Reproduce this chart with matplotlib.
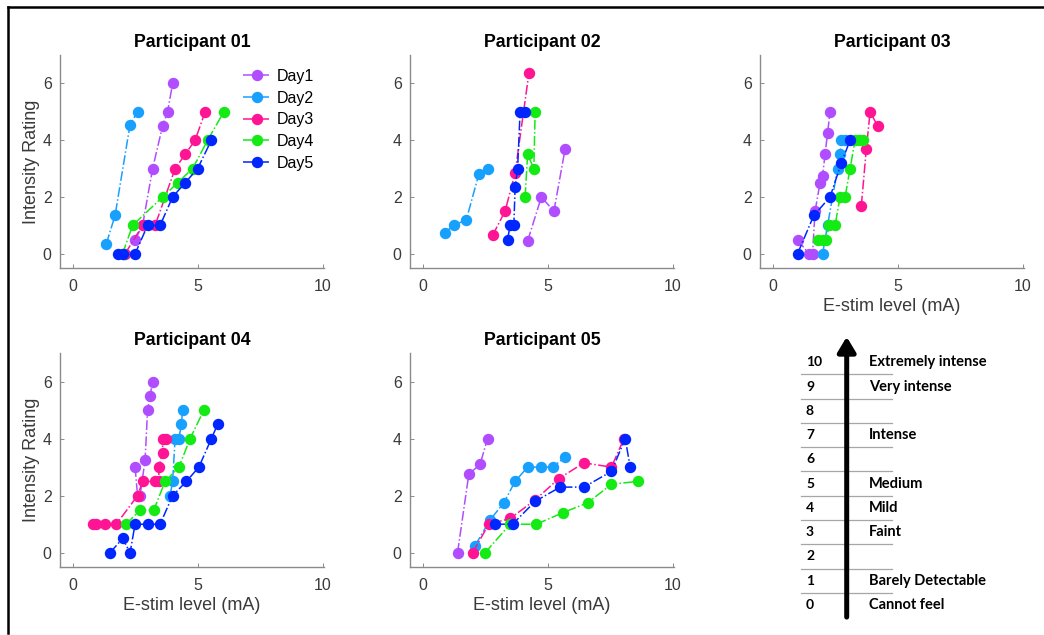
import matplotlib
matplotlib.use("Agg")
import matplotlib.pyplot as plt
from matplotlib.lines import Line2D

# ------------------------------------------------------------
# Data (E-stim level in mA, intensity rating)
# one list per day, Day1..Day5
# ------------------------------------------------------------
day_labels = ["Day1", "Day2", "Day3", "Day4", "Day5"]
day_colors = ["#B04EFF", "#18A0FF", "#FF1493", "#14EA14", "#0026FF"]

p01_x = [[2.5, 2.8, 3.2, 3.6, 3.8, 4.0],
         [1.35, 1.7, 2.3, 2.6],
         [2.1, 2.8, 3.3, 4.1, 4.5, 4.9, 5.3],
         [2.0, 2.4, 3.6, 4.2, 4.8, 5.4, 6.05],
         [1.8, 2.0, 2.5, 3.0, 3.5, 4.0, 4.5, 5.0, 5.55]]
p01_y = [[0.5, 1, 3, 4.5, 5, 6],
         [0.35, 1.35, 4.55, 5],
         [0, 1, 1, 3, 3.5, 4, 5],
         [0, 1, 2, 2.5, 3, 4, 5],
         [0, 0, 0, 1, 1, 2, 2.5, 3, 4]]

p02_x = [[4.2, 4.75, 5.25, 5.7],
         [0.9, 1.25, 1.75, 2.25, 2.6],
         [2.8, 3.3, 3.7, 4.25],
         [4.1, 4.2, 4.45, 4.5],
         [3.4, 3.5, 3.65, 3.7, 3.8, 3.9, 4.1]]
p02_y = [[0.45, 2.0, 1.5, 3.7],
         [0.75, 1.0, 1.2, 2.8, 3.0],
         [0.65, 1.5, 2.85, 6.35],
         [2.0, 3.5, 3.0, 5.0],
         [0.5, 1, 1, 2.35, 3, 5, 5]]

p03_x = [[1.0, 1.45, 1.6, 1.7, 1.9, 2.0, 2.1, 2.2, 2.3],
         [2.0, 2.2, 2.6, 2.7, 2.75, 2.9],
         [3.55, 3.75, 3.9, 4.2],
         [1.8, 2.0, 2.15, 2.25, 2.5, 2.7, 2.9, 3.1, 3.3, 3.45, 3.6],
         [1.0, 1.65, 2.3, 2.75, 3.1]]
p03_y = [[0.5, 0, 0, 1.5, 2.5, 2.75, 3.5, 4.25, 5],
         [0, 1, 3, 3.5, 4, 4],
         [1.7, 3.7, 5, 4.5],
         [0.5, 0.5, 0.5, 1, 1, 2, 2, 3, 4, 4, 4],
         [0, 1.35, 2, 3.2, 4]]

p04_x = [[2.5, 2.6, 2.7, 2.9, 3.0, 3.1, 3.2],
         [3.9, 4.0, 4.1, 4.25, 4.35, 4.4],
         [0.8, 0.95, 1.3, 1.75, 2.6, 2.8, 3.3, 3.45, 3.45, 3.6, 3.6, 3.75],
         [2.15, 2.7, 3.25, 3.7, 4.25, 4.7, 5.25],
         [1.5, 2.0, 2.3, 2.5, 3.0, 3.5, 4.0, 4.55, 5.05, 5.55, 5.8]]
p04_y = [[3, 2, 2, 3.25, 5, 5.5, 6],
         [2, 2.5, 4, 4, 4.5, 5],
         [1, 1, 1, 1, 2, 2.5, 2.5, 2.5, 3, 3.5, 4, 4],
         [1, 1.5, 1.5, 2.5, 3, 4, 5],
         [0, 0.5, 0, 1, 1, 1, 2, 2.5, 3, 4, 4.5]]

p05_x = [[1.4, 1.85, 2.3, 2.6],
         [2.1, 2.7, 3.25, 3.7, 4.2, 4.75, 5.2, 5.7],
         [2.0, 2.65, 3.5, 4.5, 5.45, 6.45, 7.55, 8.05],
         [2.5, 3.5, 4.55, 5.6, 6.6, 7.55, 8.6],
         [2.9, 3.6, 4.5, 5.5, 6.45, 7.55, 8.1, 8.3]]
p05_y = [[0, 2.75, 3.1, 4],
         [0.25, 1.15, 1.75, 2.5, 3, 3, 3, 3.35],
         [0, 1, 1.2, 1.85, 2.6, 3.15, 3.0, 4.0],
         [0, 1, 1, 1.4, 1.75, 2.4, 2.5],
         [1, 1, 1.8, 2.3, 2.3, 2.85, 4, 3]]

titles = ["Participant 01", "Participant 02", "Participant 03",
          "Participant 04", "Participant 05"]
panel_x = [p01_x, p02_x, p03_x, p04_x, p05_x]
panel_y = [p01_y, p02_y, p03_y, p04_y, p05_y]

# rating scale shown at bottom right
scale_levels = [10, 9, 8, 7, 6, 5, 4, 3, 2, 1, 0]
scale_words = ["Extremely intense", "Very intense", "", "Intense", "",
               "Medium", "Mild", "Faint", "", "Barely Detectable", "Cannot feel"]

# ------------------------------------------------------------
# Figure layout (pixel boxes converted to figure fractions)
# ------------------------------------------------------------
W, H = 1044, 635
fig = plt.figure(figsize=(W / 100, H / 100), dpi=100)
plt.rcParams['font.family'] = ['Liberation Sans', 'DejaVu Sans']

def px_box(left, right, top, bottom):
    return [left / W, 1 - bottom / H, (right - left) / W, (bottom - top) / H]

boxes = [px_box(60, 324, 55, 268), px_box(410, 674, 55, 268), px_box(760, 1024, 55, 268),
         px_box(60, 324, 353, 567), px_box(410, 674, 353, 567)]
show_ylabel = [True, False, False, True, False]
show_xlabel = [False, False, True, True, True]

axis_grey = "#8a8a8a"
text_grey = "#3a3a3a"

for i in range(5):
    ax = fig.add_axes(boxes[i])
    for d in range(5):
        ax.plot(panel_x[i][d], panel_y[i][d], linestyle='-.', marker='o',
                color=day_colors[d], markersize=7.2, linewidth=1.1,
                label=day_labels[d])
    ax.set_xlim(-0.5, 10.05)
    ax.set_ylim(-0.5, 7)
    ax.set_xticks([0, 5, 10])
    ax.set_yticks([0, 2, 4, 6])
    for side in ['top', 'right']:
        ax.spines[side].set_visible(False)
    for side in ['left', 'bottom']:
        ax.spines[side].set_color(axis_grey)
        ax.spines[side].set_linewidth(1.0)
    ax.tick_params(direction='in', length=3, width=0.7, color=axis_grey,
                   labelsize=11.5, labelcolor=text_grey)
    ax.tick_params(axis='x', pad=8)
    ax.tick_params(axis='y', pad=6)
    ax.set_title(titles[i], fontsize=12.8, fontweight='bold', pad=6)
    if show_ylabel[i]:
        ax.set_ylabel("Intensity Rating", fontsize=13, color=text_grey, labelpad=2)
    if show_xlabel[i]:
        ax.set_xlabel("E-stim level (mA)", fontsize=13, color=text_grey, labelpad=3)
    if i == 0:
        ax.legend(loc='upper left', bbox_to_anchor=(0.695, 0.935), frameon=False,
                  fontsize=11.5, handlelength=1.7, handletextpad=0.4,
                  labelspacing=0.42, borderpad=0, borderaxespad=0)

# ------------------------------------------------------------
# Rating scale with arrow
# ------------------------------------------------------------
ax_s = fig.add_axes(px_box(790, 1000, 335.6, 617.1))
ax_s.set_xlim(790, 1000)
ax_s.set_ylim(-0.5, 11.1)
ax_s.axis('off')
for lv, word in zip(scale_levels, scale_words):
    if lv < 10:
        ax_s.plot([801, 892], [lv + 0.5, lv + 0.5], color="#a6a6a6", linewidth=0.9)
    ax_s.text(806, lv, str(lv), ha='left', va='center', fontsize=10,
              fontweight='bold', family=['Lato', 'DejaVu Sans'])
    if word:
        ax_s.text(869, lv, word, ha='left', va='center', fontsize=10.5,
                  fontweight='bold', family=['Lato', 'DejaVu Sans'])
ax_s.annotate('', xy=(846.7, 11.05), xytext=(846.7, -0.5),
              arrowprops=dict(arrowstyle='-|>,head_length=0.5,head_width=0.3',
                              color='black', lw=3.6, mutation_scale=18,
                              shrinkA=0, shrinkB=0))

# ------------------------------------------------------------
# Frame lines along the top and left edges
# ------------------------------------------------------------
fig.add_artist(Line2D([8 / W, 1], [1 - 7 / H, 1 - 7 / H], transform=fig.transFigure,
                      color='black', linewidth=1.8))
fig.add_artist(Line2D([8 / W, 8 / W], [1 - 7 / H, 0.003], transform=fig.transFigure,
                      color='black', linewidth=1.8))

fig.savefig("out.png", dpi=100)
